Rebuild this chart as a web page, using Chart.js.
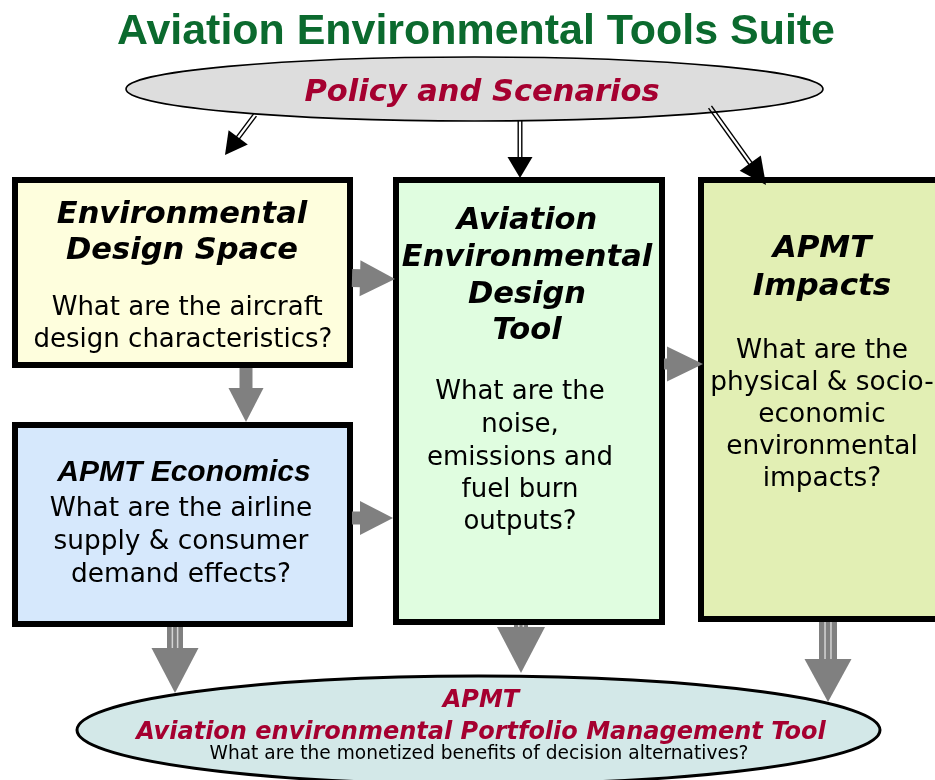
<!DOCTYPE html>
<html>
<head>
<meta charset="utf-8">
<title>Aviation Environmental Tools Suite</title>
<script src="https://cdn.jsdelivr.net/npm/chart.js@4.4.1/dist/chart.umd.min.js"></script>
<style>
  html, body { margin: 0; padding: 0; background: #fff; }
  #wrap { width: 935px; height: 780px; position: relative; }
</style>
</head>
<body>
<div id="wrap"><canvas id="diagram"></canvas></div>
<script>
// ---- diagram content ----
const chartTitle = 'Aviation Environmental Tools Suite';
const nodeNames = ['Policy and Scenarios', 'Environmental Design Space', 'APMT Economics',
  'Aviation Environmental Design Tool', 'APMT Impacts', 'APMT'];
const nodeTitles = [
  ['Policy and Scenarios'],
  ['Environmental', 'Design Space'],
  ['APMT Economics'],
  ['Aviation', 'Environmental', 'Design', 'Tool'],
  ['APMT', 'Impacts'],
  ['APMT', 'Aviation environmental Portfolio Management Tool']
];
const nodeQuestions = [
  [],
  [' What are the aircraft', 'design characteristics?'],
  ['What are the airline', 'supply & consumer', 'demand effects?'],
  ['What are the', 'noise,', 'emissions and', 'fuel burn', 'outputs?'],
  ['What are the', 'physical & socio-', 'economic', 'environmental', 'impacts?'],
  ['What are the monetized benefits of decision alternatives?']
];
// flows, as indexes into nodeNames
const flowFrom = [0, 0, 0, 1, 1, 2, 3, 2, 3, 4];
const flowTo   = [1, 3, 4, 3, 2, 3, 4, 5, 5, 5];

// ---- layout (axis units, 0..935 x 0..780) ----
const nodeLayout = [
  { shape: 'ellipse', cx: 474.5, cy: 89, rx: 348.5, ry: 32, fill: '#dddddd', lw: 1.6,
    titleFont: 'italic bold 30.5px "DejaVu Sans"', titleColor: '#a50030', tx: 482, titleY: [101] },
  { shape: 'box', x0: 15, y0: 180, x1: 350, y1: 365, fill: '#fefedd',
    titleFont: 'italic bold 30.5px "DejaVu Sans"', tx: 182, titleY: [223, 259],
    qFont: '26px "DejaVu Sans"', qx: 183, qY: [315, 347] },
  { shape: 'box', x0: 15, y0: 425, x1: 350, y1: 624, fill: '#d6e8fc',
    titleFont: 'italic bold 30px "Liberation Sans"', tx: 184, titleY: [481],
    qFont: '26.4px "DejaVu Sans"', qx: 181, qY: [516, 549, 582] },
  { shape: 'box', x0: 396, y0: 180, x1: 662, y1: 622, fill: '#e0fde0',
    titleFont: 'italic bold 30.5px "DejaVu Sans"', tx: 527, titleY: [229, 266, 303, 339],
    qFont: '26px "DejaVu Sans"', qx: 520, qY: [399, 432, 465, 497, 529] },
  { shape: 'box', x0: 701, y0: 180, x1: 960, y1: 619, fill: '#e2efb4',
    titleFont: 'italic bold 31px "DejaVu Sans"', tx: 822, titleY: [257, 295],
    qFont: '26.4px "DejaVu Sans"', qx: 822, qY: [358, 390, 422, 454, 486] },
  { shape: 'ellipse', cx: 478.5, cy: 730, rx: 401.5, ry: 54, fill: '#d3e8e8', lw: 3,
    titleFont: 'italic bold 24px "DejaVu Sans"', titleColor: '#a50030', tx: 481, titleY: [707, 739],
    qFont: '18.6px "DejaVu Sans"', qx: 479, qY: [759] }
];
// one entry per flow: start, tip, shaft width, head width, head length, kind
const flowLayout = [
  { x0: 255, y0: 115, x1: 225, y1: 155, sw: 6, hw: 24, hl: 22, kind: 'double' },
  { x0: 520, y0: 120, x1: 520, y1: 178, sw: 6, hw: 25, hl: 21, kind: 'double' },
  { x0: 710, y0: 107, x1: 766, y1: 185, sw: 6, hw: 26, hl: 27, kind: 'double' },
  { x0: 352, y0: 278, x1: 395, y1: 279, sw: 18, hw: 36, hl: 35, kind: 'block' },
  { x0: 246, y0: 368, x1: 246, y1: 422, sw: 13, hw: 35, hl: 34, kind: 'block' },
  { x0: 352, y0: 518, x1: 393, y1: 518, sw: 13, hw: 34, hl: 33, kind: 'block' },
  { x0: 664, y0: 364, x1: 703, y1: 364, sw: 11, hw: 35, hl: 36, kind: 'block' },
  { x0: 175, y0: 627, x1: 175, y1: 693, sw: 16, hw: 47, hl: 45, kind: 'triple' },
  { x0: 521, y0: 625, x1: 521, y1: 673, sw: 14, hw: 48, hl: 46, kind: 'triple' },
  { x0: 828, y0: 622, x1: 828, y1: 702, sw: 18, hw: 47, hl: 43, kind: 'triple' }
];

const W = 935, H = 780;

function drawArrow(ctx, f, px, py, s) {
  const ax = px(f.x0), ay = py(f.y0), bx = px(f.x1), by = py(f.y1);
  const len = Math.hypot(bx - ax, by - ay);
  const dx = (bx - ax) / len, dy = (by - ay) / len;
  const nx = -dy, ny = dx;
  const hl = s(f.hl), hw = s(f.hw) / 2, sw = s(f.sw) / 2;
  const cx = bx - dx * hl, cy = by - dy * hl;
  const headColor = f.kind === 'double' ? '#000' : '#808080';

  if (f.kind === 'double') {
    ctx.strokeStyle = '#000';
    ctx.lineWidth = 1.4;
    [-1, 1].forEach(k => {
      ctx.beginPath();
      ctx.moveTo(ax + nx * sw * k * 0.6, ay + ny * sw * k * 0.6);
      ctx.lineTo(cx + dx * 2 + nx * sw * k * 0.6, cy + dy * 2 + ny * sw * k * 0.6);
      ctx.stroke();
    });
  } else {
    ctx.fillStyle = '#808080';
    ctx.beginPath();
    ctx.moveTo(ax + nx * sw, ay + ny * sw);
    ctx.lineTo(cx + dx + nx * sw, cy + dy + ny * sw);
    ctx.lineTo(cx + dx - nx * sw, cy + dy - ny * sw);
    ctx.lineTo(ax - nx * sw, ay - ny * sw);
    ctx.closePath();
    ctx.fill();
    if (f.kind === 'triple') {
      ctx.strokeStyle = '#d4d4d4';
      ctx.lineWidth = 1.5;
      [-1, 1].forEach(k => {
        const o = sw * 0.33 * k;
        ctx.beginPath();
        ctx.moveTo(ax + nx * o, ay + ny * o);
        ctx.lineTo(cx + nx * o, cy + ny * o);
        ctx.stroke();
      });
    }
  }
  ctx.fillStyle = headColor;
  ctx.beginPath();
  ctx.moveTo(bx, by);
  ctx.lineTo(cx + nx * hw, cy + ny * hw);
  ctx.lineTo(cx - nx * hw, cy - ny * hw);
  ctx.closePath();
  ctx.fill();
}

const diagramPlugin = {
  id: 'diagram',
  afterDatasetsDraw(chart) {
    const ctx = chart.ctx;
    const xs = chart.scales.x, ys = chart.scales.y;
    const px = v => xs.getPixelForValue(v);
    const py = v => ys.getPixelForValue(v);
    const s = v => v * (xs.right - xs.left) / W;

    ctx.save();
    ctx.textAlign = 'center';
    ctx.textBaseline = 'alphabetic';

    // title
    ctx.fillStyle = '#0b6a2e';
    ctx.font = 'bold 43px "Liberation Sans"';
    ctx.fillText(chartTitle, px(476), py(44), s(718));

    // nodes
    nodeLayout.forEach((n, i) => {
      ctx.fillStyle = n.fill;
      ctx.strokeStyle = '#000';
      ctx.beginPath();
      if (n.shape === 'ellipse') {
        ctx.ellipse(px(n.cx), py(n.cy), s(n.rx), s(n.ry), 0, 0, Math.PI * 2);
        ctx.lineWidth = n.lw;
      } else {
        ctx.rect(px(n.x0), py(n.y0), s(n.x1 - n.x0), s(n.y1 - n.y0));
        ctx.lineWidth = 6;
      }
      ctx.fill();
      ctx.stroke();

      ctx.font = n.titleFont;
      ctx.fillStyle = n.titleColor || '#000';
      nodeTitles[i].forEach((t, j) => {
        ctx.fillText(t, px(n.tx), py(n.titleY[j]), n.shape === 'ellipse' ? s(700) : s(n.x1 - n.x0 - 8));
      });
      if (n.qFont) {
        ctx.font = n.qFont;
        ctx.fillStyle = '#000';
        nodeQuestions[i].forEach((t, j) => {
          ctx.fillText(t, px(n.qx), py(n.qY[j]));
        });
      }
    });

    // flows
    flowFrom.forEach((from, k) => drawArrow(ctx, flowLayout[k], px, py, s));
    ctx.restore();
  }
};

new Chart(document.getElementById('diagram'), {
  type: 'scatter',
  data: {
    datasets: [{
      label: 'nodes',
      data: nodeLayout.map((n, i) => ({
        x: n.shape === 'ellipse' ? n.cx : (n.x0 + n.x1) / 2,
        y: n.shape === 'ellipse' ? n.cy : (n.y0 + n.y1) / 2,
        name: nodeNames[i]
      })),
      pointRadius: 0,
      pointHoverRadius: 0
    }]
  },
  options: {
    responsive: true,
    maintainAspectRatio: false,
    animation: false,
    layout: { padding: 0 },
    plugins: {
      legend: { display: false },
      tooltip: { enabled: false }
    },
    scales: {
      x: { type: 'linear', min: 0, max: W, display: false },
      y: { type: 'linear', min: 0, max: H, reverse: true, display: false }
    }
  },
  plugins: [diagramPlugin]
});
</script>
</body>
</html>
